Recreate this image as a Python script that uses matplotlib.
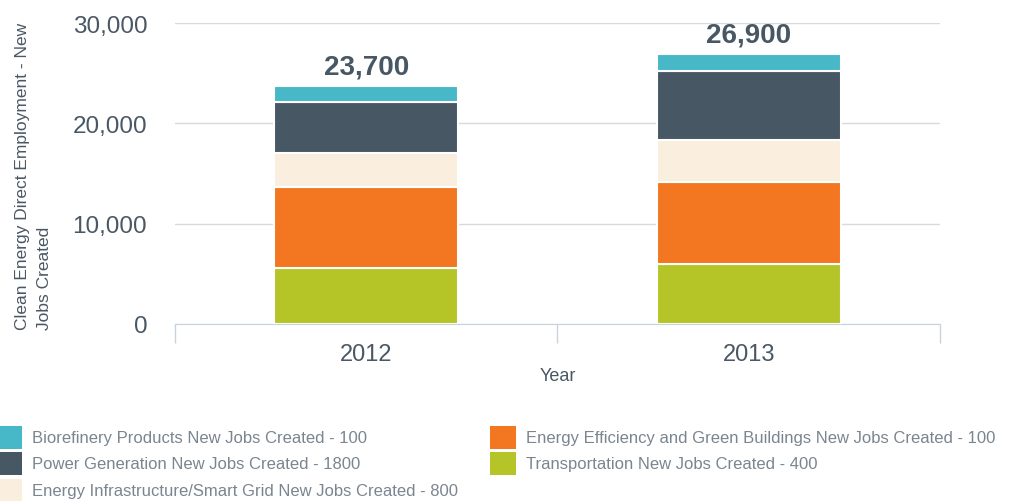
import matplotlib
matplotlib.use("Agg")
import matplotlib.pyplot as plt
from matplotlib.patches import Rectangle
import numpy as np

years = ["2012", "2013"]
series = [
    "Transportation New Jobs Created - 400",
    "Energy Efficiency and Green Buildings New Jobs Created - 100",
    "Energy Infrastructure/Smart Grid New Jobs Created - 800",
    "Power Generation New Jobs Created - 1800",
    "Biorefinery Products New Jobs Created - 100",
]
transport = [5600, 6000]
efficiency = [8100, 8200]
infrastructure = [3300, 4100]
power = [5100, 6900]
biorefinery = [1600, 1700]
totals = [23700, 26900]
colors = ["#b5c427", "#f37721", "#faeedf", "#475764", "#47b8c7"]

values = [transport, efficiency, infrastructure, power, biorefinery]

plt.rcParams["font.family"] = ["Liberation Sans", "DejaVu Sans"]
fig = plt.figure(figsize=(10.12, 5.02), dpi=100)
ax = fig.add_axes([175/1012, 1-325/502, (940-175)/1012, (325-24)/502])

x = np.arange(len(years))
bottom = np.zeros(len(years))
for vals, col, lab in zip(values, colors, series):
    ax.bar(x, vals, width=0.48, bottom=bottom, color=col, edgecolor="white",
           linewidth=1.5, label=lab, zorder=3)
    bottom += np.array(vals)

for xi, t in zip(x, totals):
    ax.annotate(f"{t:,}", (xi, t), xytext=(0, 5), textcoords="offset points",
                ha="center", va="bottom", fontsize=20, fontweight="bold",
                color="#475764")

ax.set_xlim(-0.5, 1.5)
ax.set_ylim(0, 30000)
ax.set_yticks([0, 10000, 20000, 30000])
ax.set_yticklabels([f"{v:,}" for v in [0, 10000, 20000, 30000]])
ax.yaxis.grid(True, color="#d9d9d9", linewidth=1, zorder=0)
ax.set_axisbelow(True)
ax.tick_params(axis="y", length=0, pad=20, labelsize=17.5, labelcolor="#4a5764")
ax.set_xticks(x)
ax.set_xticklabels(years)
ax.set_xticks([-0.5, 0.5, 1.5], minor=True)
ax.tick_params(axis="x", which="major", length=0, pad=14, labelsize=17, labelcolor="#4a5764")
ax.tick_params(axis="x", which="minor", length=14, color="#c8d3e0", width=1)
for s in ["top", "right", "left"]:
    ax.spines[s].set_visible(False)
ax.spines["bottom"].set_color("#c8d3e0")
ax.set_xlabel("Year", fontsize=13, color="#4a5764", labelpad=1)

fig.text(33.5/1012, 1-330/502, "Clean Energy Direct Employment - New\nJobs Created",
         rotation=90, ha="center", va="bottom", multialignment="left",
         fontsize=12.5, color="#4a5764", linespacing=1.55)

# legend
order = [4, 3, 2, 1, 0]
pos = [(-4, 427), (-4, 453), (-4, 480), (490, 427), (490, 453)]
for (px, py), idx in zip(pos, order):
    fig.add_artist(Rectangle((px/1012, 1-(py+23)/502), 26/1012, 23/502,
                             transform=fig.transFigure, color=colors[idx], lw=0))
    fig.text((px+36)/1012, 1-(py+12)/502, series[idx], ha="left", va="center",
             fontsize=12, color="#7a8590",
             family=["Liberation Sans", "DejaVu Sans"])

fig.savefig("out.png", dpi=100)
